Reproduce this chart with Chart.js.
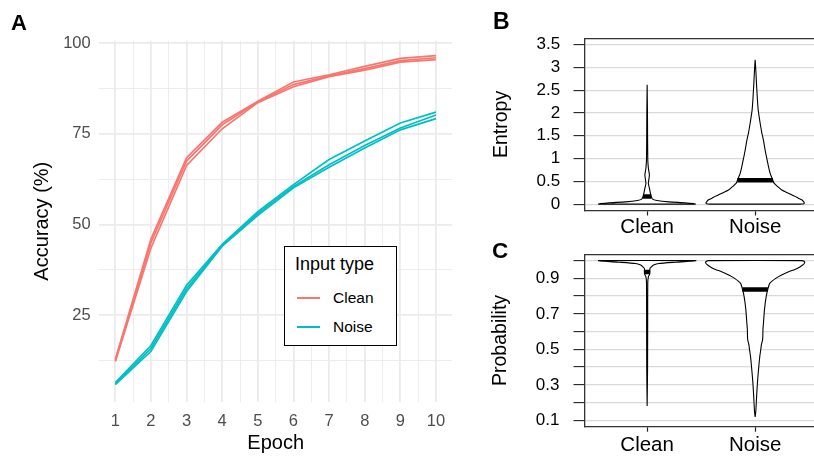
<!DOCTYPE html>
<html>
<head>
<meta charset="utf-8">
<script src="https://cdn.jsdelivr.net/npm/chart.js@4.4.1/dist/chart.umd.min.js"></script>
<style>
  html, body { margin: 0; padding: 0; width: 814px; height: 460px; overflow: hidden; background: #fff; }
  canvas { position: absolute; }
  .tag { position: absolute; font-family: "Liberation Sans", Arial, sans-serif; font-weight: bold; line-height: 1; color: #000; }
  #legendA { position: absolute; left: 284px; top: 246px; width: 111px; height: 98px; border: 1px solid #000; background: #fff;
             font-family: "Liberation Sans", Arial, sans-serif; color: #000; }
  #legendA div { position: absolute; line-height: 1; white-space: nowrap; }
  #legendA .swatch { width: 23px; height: 2px; }
</style>
</head>
<body>
<canvas id="panelA" width="460" height="460" style="left:0;top:0"></canvas>
<canvas id="panelB" width="360" height="240" style="left:460px;top:0"></canvas>
<canvas id="panelC" width="360" height="230" style="left:460px;top:230px"></canvas>

<div class="tag" style="left:11px;top:12px;font-size:22px">A</div>
<div class="tag" style="left:493px;top:10px;font-size:23px">B</div>
<div class="tag" style="left:492px;top:240px;font-size:22.5px">C</div>

<div id="legendA">
  <div style="left:10px;top:8px;font-size:18px">Input type</div>
  <div class="swatch" style="left:12px;top:50px;background:#F8766D"></div>
  <div style="left:48px;top:43px;font-size:15.5px">Clean</div>
  <div class="swatch" style="left:12px;top:79px;background:#00BFC4"></div>
  <div style="left:48px;top:72px;font-size:15.5px">Noise</div>
</div>

<script type="text/javascript">
// panel A: accuracy per epoch, three runs per input type
var epochs = [1, 2, 3, 4, 5, 6, 7, 8, 9, 10];
var cleanRun1 = [12.8, 46.0, 68.4, 78.2, 84.0, 89.3, 91.3, 93.6, 95.8, 96.6];
var cleanRun2 = [12.5, 45.0, 67.5, 77.5, 83.8, 88.6, 91.0, 93.0, 95.2, 96.0];
var cleanRun3 = [12.2, 43.5, 66.3, 76.4, 83.6, 88.0, 90.8, 92.6, 94.8, 95.5];
var noiseRun1 = [6.4, 16.6, 33.2, 44.5, 53.5, 61.0, 67.9, 73.0, 78.0, 81.0];
var noiseRun2 = [6.1, 15.8, 32.3, 44.2, 53.0, 60.5, 66.5, 71.8, 76.6, 80.2];
var noiseRun3 = [5.8, 15.0, 31.5, 44.0, 52.5, 60.1, 65.8, 71.1, 76.1, 79.2];

// panels B and C: violins (level, half width in category units) + medians
var violinCats = ['Clean', 'Noise'];

var entropyCleanY = [0, 0.012, 0.03, 0.05, 0.08, 0.11, 0.17, 0.24, 0.35, 0.46, 0.56, 0.64, 0.72, 0.8, 0.97, 1.5, 2.0, 2.62];
var entropyCleanW = [0.45, 0.43, 0.35, 0.2, 0.09, 0.05, 0.038, 0.03, 0.021, 0.011, 0.017, 0.021, 0.016, 0.011, 0.006, 0.004, 0.003, 0];
var entropyNoiseY = [0, 0.01, 0.03, 0.06, 0.095, 0.13, 0.17, 0.24, 0.31, 0.39, 0.46, 0.53, 0.68, 0.83, 1.0, 1.19, 1.4, 1.56, 1.78, 1.92, 2.07, 2.29, 2.66, 2.95, 3.17];
var entropyNoiseW = [0.42, 0.45, 0.455, 0.446, 0.431, 0.4, 0.369, 0.308, 0.246, 0.206, 0.175, 0.163, 0.138, 0.123, 0.108, 0.092, 0.077, 0.062, 0.046, 0.037, 0.028, 0.021, 0.012, 0.006, 0];
var entropyMedians = [0.17, 0.523];
var entropyMedianW = [0.038, 0.165];
var entropyTicks = [0, 0.5, 1, 1.5, 2, 2.5, 3, 3.5];

var probCleanY = [0.18, 0.4, 0.7, 0.88, 0.91, 0.925, 0.94, 0.955, 0.965, 0.975, 0.984, 0.991, 0.996, 1.0];
var probCleanW = [0, 0.004, 0.005, 0.006, 0.012, 0.024, 0.026, 0.025, 0.04, 0.06, 0.108, 0.26, 0.4, 0.45];
var probNoiseY = [0.119, 0.15, 0.218, 0.311, 0.405, 0.46, 0.498, 0.526, 0.55, 0.573, 0.61, 0.648, 0.722, 0.797, 0.838, 0.872, 0.9, 0.918, 0.937, 0.956, 0.975, 0.987, 0.995, 1.0];
var probNoiseW = [0, 0.006, 0.012, 0.021, 0.034, 0.043, 0.052, 0.058, 0.068, 0.071, 0.072, 0.077, 0.086, 0.102, 0.117, 0.135, 0.19, 0.24, 0.31, 0.39, 0.44, 0.458, 0.455, 0.43];
var probMedians = [0.935, 0.837];
var probMedianW = [0.026, 0.118];
var probLabelTicks = [0.1, 0.3, 0.5, 0.7, 0.9];

Chart.defaults.font.family = '"Liberation Sans", Arial, sans-serif';

var cleanColor = '#F8766D';
var noiseColor = '#00BFC4';

var runsA = [
  [cleanRun1, cleanColor], [cleanRun2, cleanColor], [cleanRun3, cleanColor],
  [noiseRun1, noiseColor], [noiseRun2, noiseColor], [noiseRun3, noiseColor]
];

new Chart(document.getElementById('panelA'), {
  type: 'line',
  data: {
    datasets: runsA.map(r => ({
      data: epochs.map((e, i) => ({x: e, y: r[0][i]})),
      borderColor: r[1],
      borderWidth: 1.7,
      pointRadius: 0,
      tension: 0,
      fill: false
    }))
  },
  options: {
    responsive: false,
    animation: false,
    devicePixelRatio: 1,
    layout: {padding: {top: 40.7, right: 8, left: 0, bottom: 0}},
    plugins: {legend: {display: false}, tooltip: {enabled: false}},
    scales: {
      x: {
        type: 'linear', min: 0.55, max: 10.45,
        afterFit: s => { s.height = 58.3; },
        ticks: {
          stepSize: 0.5, includeBounds: false, autoSkip: false, maxRotation: 0,
          padding: 9.6, color: '#4D4D4D', font: {size: 16.5},
          callback: v => Number.isInteger(v) ? String(v) : ''
        },
        grid: {color: '#EBEBEB', lineWidth: c => Number.isInteger(c.tick.value) ? 1.8 : 0.9, drawTicks: false},
        border: {display: false},
        title: {display: true, text: 'Epoch', color: '#000', font: {size: 20}, padding: {top: 0, bottom: 4.6}}
      },
      y: {
        type: 'linear', min: 1.1, max: 100.7,
        afterFit: s => { s.width = 99.3; },
        ticks: {
          stepSize: 12.5, includeBounds: false, autoSkip: false,
          padding: 8.6, color: '#4D4D4D', font: {size: 16.5},
          callback: v => v % 25 === 0 ? String(v) : ''
        },
        grid: {color: '#EBEBEB', lineWidth: c => c.tick.value % 25 === 0 ? 1.8 : 0.9, drawTicks: false},
        border: {display: false},
        title: {display: true, text: 'Accuracy (%)', color: '#000', font: {size: 20}, padding: {top: 30, bottom: 0}}
      }
    }
  }
});

function violinOutline(center, ys, ws) {
  var right = ys.map((y, i) => ({x: center + ws[i], y: y}));
  var left = ys.map((y, i) => ({x: center - ws[i], y: y})).reverse();
  return right.concat(left, [right[0]]);
}

function violinSets(shapes, medians, medianW) {
  var sets = [];
  shapes.forEach((sh, i) => {
    sets.push({
      data: violinOutline(i + 1, sh[0], sh[1]),
      order: 2,
      showLine: true, borderColor: '#000', borderWidth: 1.1, pointRadius: 0,
      fill: 'shape', backgroundColor: '#fff', tension: 0.2
    });
  });
  medians.forEach((m, i) => {
    sets.push({
      data: [{x: i + 1 - medianW[i], y: m}, {x: i + 1 + medianW[i], y: m}],
      order: 1,
      showLine: true, borderColor: '#000', borderWidth: 4.5, borderCapStyle: 'butt', pointRadius: 0
    });
  });
  return sets;
}

function violinChart(id, o) {
  new Chart(document.getElementById(id), {
    type: 'scatter',
    data: {datasets: violinSets(o.shapes, o.medians, o.medianW)},
    options: {
      responsive: false,
      animation: false,
      devicePixelRatio: 1,
      layout: {padding: {top: o.top, right: 2.2, left: 0, bottom: 0}},
      plugins: {legend: {display: false}, tooltip: {enabled: false}},
      scales: {
        x: {
          type: 'linear', min: 0.42, max: 2.58,
          afterFit: s => { s.height = o.xHeight; },
          afterBuildTicks: s => { s.ticks = violinCats.map((c, i) => ({value: i + 1})); },
          ticks: {autoSkip: false, maxRotation: 0, padding: o.xPad, color: '#000', font: {size: 20.5},
                  callback: v => violinCats[Math.round(v) - 1]},
          grid: {drawOnChartArea: false, drawTicks: true, tickLength: 5, tickColor: '#222', tickWidth: 1.2},
          border: {display: true, color: '#333', width: 1.3}
        },
        xTop: {
          type: 'linear', position: 'top', min: 0.42, max: 2.58,
          afterFit: s => { s.height = 0; },
          ticks: {display: false},
          grid: {drawOnChartArea: false, drawTicks: false},
          border: {display: true, color: '#333', width: 1.3}
        },
        y: {
          type: 'linear', min: o.yMin, max: o.yMax,
          afterFit: s => { s.width = 124.5; },
          ticks: {stepSize: o.step, includeBounds: false, autoSkip: false, padding: o.yPad,
                  color: '#000', font: {size: 17}, callback: o.label},
          grid: {color: '#D9D9D9', lineWidth: 1.2, drawTicks: true, tickLength: 11, tickColor: '#222', tickWidth: 1.1},
          border: {display: true, color: '#333', width: 1.3},
          title: {display: true, text: o.title, color: '#000', font: {size: 19.5}, padding: {top: o.titlePad, bottom: 0}}
        }
      }
    }
  });
}

violinChart('panelB', {
  shapes: [[entropyCleanY, entropyCleanW], [entropyNoiseY, entropyNoiseW]],
  medians: entropyMedians, medianW: entropyMedianW,
  top: 38.3, xHeight: 29.5, xPad: 0, yPad: 13.3, titlePad: 29.6,
  yMin: -0.14, yMax: 3.64, step: 0.5, title: 'Entropy',
  label: v => entropyTicks.some(t => Math.abs(t - v) < 1e-6) ? String(Math.round(v * 10) / 10) : ''
});

violinChart('panelC', {
  shapes: [[probCleanY, probCleanW], [probNoiseY, probNoiseW]],
  medians: probMedians, medianW: probMedianW,
  top: 24, xHeight: 33.3, xPad: 1, yPad: 14, titlePad: 29,
  yMin: 0.064, yMax: 1.036, step: 0.1, title: 'Probability',
  label: v => probLabelTicks.some(t => Math.abs(t - v) < 1e-6) ? String(Math.round(v * 10) / 10) : ''
});
</script>
</body>
</html>
